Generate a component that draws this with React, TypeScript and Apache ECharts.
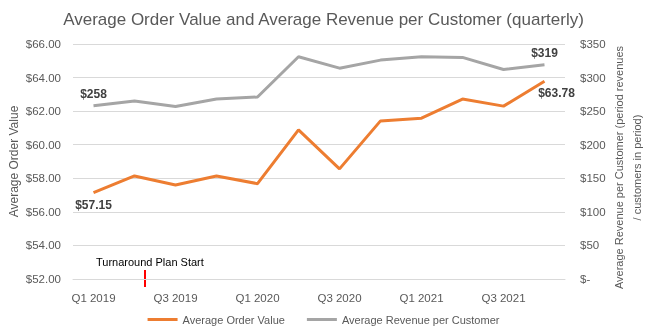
import React, { useEffect, useRef } from "react";
import * as echarts from "echarts";

const categories = ["Q1 2019","Q2 2019","Q3 2019","Q4 2019","Q1 2020","Q2 2020","Q3 2020","Q4 2020","Q1 2021","Q2 2021","Q3 2021","Q4 2021"];
const avgOrderValue = [57.15, 58.14, 57.6, 58.14, 57.68, 60.88, 58.56, 61.42, 61.58, 62.72, 62.3, 63.78];
const avgRevenuePerCustomer = [258, 265, 257, 268, 271, 331, 314, 326, 331, 330, 312, 319];
const leftTicks = { min: 52, max: 66, interval: 2 };
const rightTicks = { min: 0, max: 350, interval: 50 };

const FONT = "Liberation Sans";
const GREY = "#595959";

export default function App() {
  const ref = useRef<HTMLDivElement>(null);
  useEffect(() => {
    const chart = echarts.init(ref.current!, null, { renderer: "svg" });
    const lastIdx = categories.length - 1;
    const labelFor = (pos: string, fmt: (v: number) => string) => ({
      show: true,
      position: pos,
      distance: 6,
      fontFamily: FONT,
      fontSize: 12,
      fontWeight: "bold",
      color: "#404040",
      formatter: (p: any) => (p.dataIndex === 0 || p.dataIndex === lastIdx ? fmt(p.value) : ""),
    });
    chart.setOption({
      animation: false,
      textStyle: { fontFamily: FONT },
      title: {
        text: "Average Order Value and Average Revenue per Customer (quarterly)",
        left: "center",
        top: 6,
        textStyle: { fontFamily: FONT, fontSize: 17, fontWeight: "normal", color: GREY },
      },
      grid: { left: 73, right: 82, top: 44, bottom: 53, containLabel: false, outerBoundsMode: "none" },
      legend: {
        bottom: 2,
        left: "center",
        icon: "rect",
        itemWidth: 30,
        itemHeight: 3,
        itemGap: 22,
        textStyle: { fontFamily: FONT, fontSize: 11, color: GREY },
        data: ["Average Order Value", "Average Revenue per Customer"],
      },
      xAxis: {
        type: "category",
        data: categories,
        boundaryGap: true,
        axisLine: { lineStyle: { color: "#d9d9d9" } },
        axisTick: { show: false },
        axisLabel: { interval: 1, color: GREY, fontSize: 11.5, fontFamily: FONT, margin: 13 },
      },
      yAxis: [
        {
          type: "value",
          ...leftTicks,
          name: "Average Order Value",
          nameLocation: "middle",
          nameGap: 53,
          nameMoveOverlap: false,
          nameTextStyle: { color: GREY, fontSize: 12, fontFamily: FONT },
          axisLine: { show: false },
          axisTick: { show: false },
          splitLine: { lineStyle: { color: "#d9d9d9" } },
          axisLabel: { color: GREY, fontSize: 11.5, fontFamily: FONT, margin: 12, formatter: (v: number) => "$" + v.toFixed(2) },
        },
        {
          type: "value",
          ...rightTicks,
          name: "Average Revenue per Customer (period revenues\n/ customers in period)",
          nameLocation: "middle",
          nameGap: 45,
          nameMoveOverlap: false,
          nameRotate: 90,
          nameTextStyle: { color: GREY, fontSize: 11, fontFamily: FONT, align: "center", lineHeight: 18, padding: [0, 12, 0, 0] },
          axisLine: { show: false },
          axisTick: { show: false },
          splitLine: { show: false },
          axisLabel: { color: GREY, fontSize: 11.5, fontFamily: FONT, margin: 15, formatter: (v: number) => (v === 0 ? "$-" : "$" + v) },
        },
      ],
      series: [
        {
          name: "Average Order Value",
          type: "line",
          yAxisIndex: 0,
          data: avgOrderValue,
          symbol: "circle",
          symbolSize: 0,
          showSymbol: true,
          lineStyle: { width: 3, color: "#ED7D31" },
          itemStyle: { color: "#ED7D31" },
          label: labelFor("bottom", (v) => "$" + v.toFixed(2)),
          labelLayout: (p: any) => (p.dataIndex === lastIdx ? { dx: 12 } : {}),
        },
        {
          name: "Average Revenue per Customer",
          type: "line",
          yAxisIndex: 1,
          data: avgRevenuePerCustomer,
          symbol: "circle",
          symbolSize: 0,
          showSymbol: true,
          lineStyle: { width: 3, color: "#A5A5A5" },
          itemStyle: { color: "#A5A5A5" },
          label: labelFor("top", (v) => "$" + Math.round(v)),
        },
      ],
      graphic: [
        {
          type: "text",
          x: 96,
          y: 256,
          style: { text: "Turnaround Plan Start", fontFamily: FONT, fontSize: 11, fill: "#000" },
        },
        {
          type: "line",
          shape: { x1: 145, y1: 270, x2: 145, y2: 287 },
          style: { stroke: "#ff0000", lineWidth: 2 },
        },
      ],
    });
    return () => chart.dispose();
  }, []);
  return <div ref={ref} style={{ position: "fixed", left: 0, top: 0, width: 647, height: 332 }} />;
}
